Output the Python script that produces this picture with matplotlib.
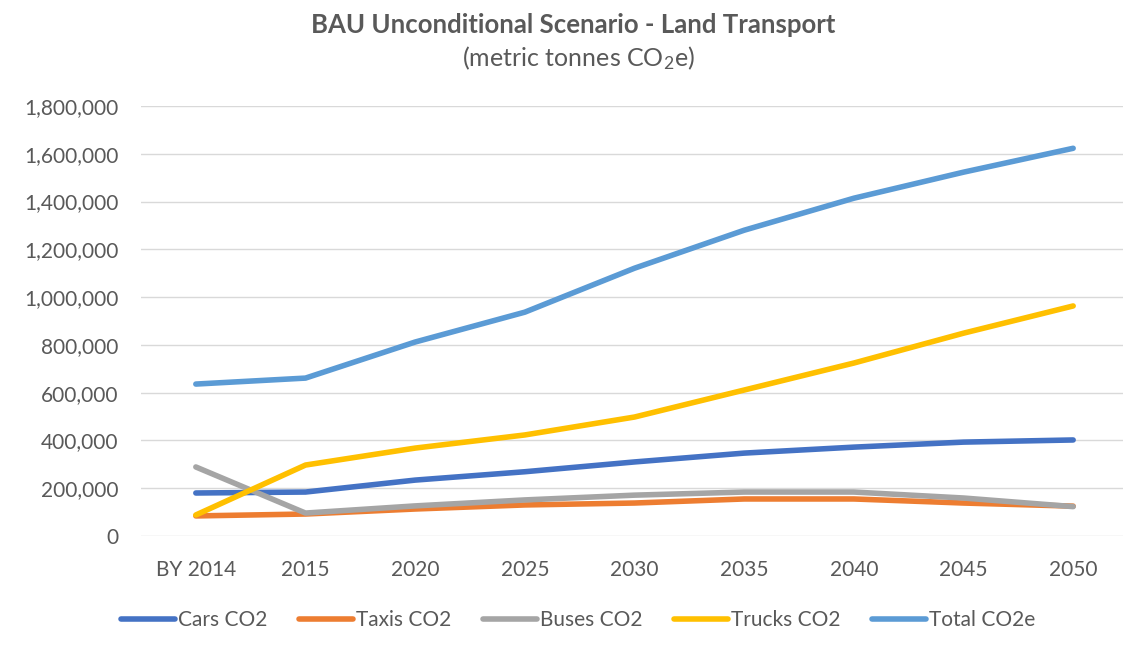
import matplotlib.pyplot as plt
import numpy as np
from matplotlib.ticker import FuncFormatter

plt.rcParams['font.family'] = ['Lato', 'DejaVu Sans']
plt.rcParams['mathtext.default'] = 'regular'

years = ["BY 2014", "2015", "2020", "2025", "2030", "2035", "2040", "2045", "2050"]
cars = [180000, 184000, 234000, 269000, 310000, 347000, 372000, 393000, 402000]
taxis = [84000, 92000, 113000, 130000, 138000, 155000, 155000, 138000, 125000]
buses = [289000, 96000, 126000, 151000, 171000, 184000, 184000, 159000, 123000]
trucks = [88000, 297000, 368000, 423000, 498000, 611000, 724000, 849000, 963000]
total = [636000, 661000, 812000, 937000, 1121000, 1280000, 1414000, 1523000, 1623000]

series = [
    ("Cars CO2", cars, "#4472C4"),
    ("Taxis CO2", taxis, "#ED7D31"),
    ("Buses CO2", buses, "#A5A5A5"),
    ("Trucks CO2", trucks, "#FFC000"),
    ("Total CO2e", total, "#5B9BD5"),
]

fig = plt.figure(figsize=(11.23, 6.48), dpi=100)
ax = fig.add_axes([141 / 1123, (648 - 536) / 648, (1128 - 141) / 1123, (536 - 106) / 648])

x = np.arange(len(years))
for name, vals, col in series:
    ax.plot(x, vals, color=col, lw=4, label=name, solid_capstyle="round", solid_joinstyle="round")

ax.set_xlim(-0.5, len(years) - 0.5)
ax.set_ylim(0, 1800000)
ax.set_yticks(np.arange(0, 1800001, 200000))
ax.yaxis.set_major_formatter(FuncFormatter(lambda v, p: f"{int(v):,}"))
ax.set_xticks(x)
ax.set_xticklabels(years)
ax.grid(axis="y", color="#D9D9D9", lw=1)
ax.set_axisbelow(True)
for s in ax.spines.values():
    s.set_visible(False)
ax.tick_params(axis="both", length=0, labelsize=15, colors="#595959")
ax.tick_params(axis="y", pad=16)
ax.tick_params(axis="x", pad=17)

fig.text(0.51, 0.962, "BAU Unconditional Scenario - Land Transport", ha="center", va="center",
         fontsize=18.5, fontweight="bold", color="#595959")
fig.text(0.515, 0.91, "(metric tonnes CO$_2$e)", ha="center", va="center",
         fontsize=18, color="#595959")

fig.legend(loc="center", bbox_to_anchor=(0.515, 0.043), ncol=5, frameon=False,
           handlelength=2.6, handletextpad=0.15, columnspacing=1.5,
           fontsize=15, labelcolor="#595959")

fig.savefig("out.png", dpi=100)
